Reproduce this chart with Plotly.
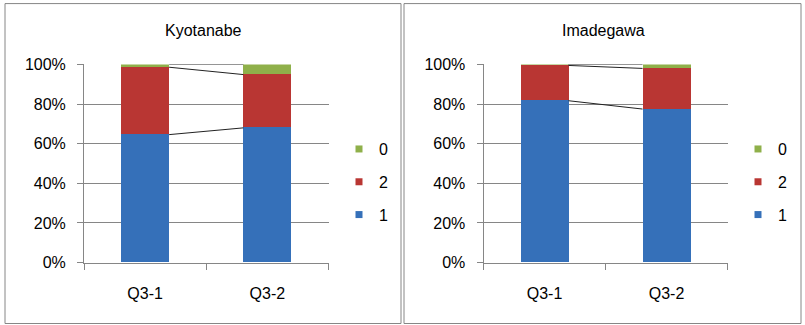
import plotly.graph_objects as go

categories = ["Q3-1", "Q3-2"]
panels = ["Kyotanabe", "Imadegawa"]
# percentages per panel: series "1", "2", "0"
kyotanabe_1 = [64.6, 68.0]
kyotanabe_2 = [34.0, 26.9]
kyotanabe_0 = [1.4, 5.1]
imadegawa_1 = [81.7, 77.5]
imadegawa_2 = [17.8, 20.5]
imadegawa_0 = [0.5, 2.0]
y_ticks = [0, 20, 40, 60, 80, 100]
y_ticklabels = ["0%", "20%", "40%", "60%", "80%", "100%"]

series_names = ["1", "2", "0"]
colors = {"1": "#3570b9", "2": "#b93633", "0": "#8fb04a"}
W, H = 805, 345
FONT = "Liberation Sans"
GRID = "#868686"
BARW = 0.393

# vertical mapping from target picture pixels to page pixels
O, S = 7.4, 0.948


def py(Y):
    return (Y - O) / S


def pp(Y):
    return 1 - py(Y) / H


data = {
    "Kyotanabe": {"1": kyotanabe_1, "2": kyotanabe_2, "0": kyotanabe_0},
    "Imadegawa": {"1": imadegawa_1, "2": imadegawa_2, "0": imadegawa_0},
}

fig = go.Figure()
xpos = list(range(len(categories)))
for pi, panel in enumerate(panels):
    xa = "x" if pi == 0 else "x2"
    ya = "y" if pi == 0 else "y2"
    leg = "legend" if pi == 0 else "legend2"
    cum = [0.0] * len(categories)
    for s in series_names:
        vals = data[panel][s]
        fig.add_trace(go.Bar(x=xpos, y=vals, base=cum[:], width=BARW,
                             marker=dict(color=colors[s], line=dict(width=0)),
                             xaxis=xa, yaxis=ya, showlegend=False, name=s))
        cum = [c + v for c, v in zip(cum, vals)]
        fig.add_trace(go.Scatter(x=[xpos[0] + BARW / 2, xpos[1] - BARW / 2], y=cum,
                                 mode="lines", line=dict(color="#222222", width=1),
                                 xaxis=xa, yaxis=ya, showlegend=False, hoverinfo="skip"))
    for s in ["0", "2", "1"]:
        fig.add_trace(go.Scatter(x=[None], y=[None], mode="markers", name=s,
                                 marker=dict(symbol="square", size=7, color=colors[s]),
                                 xaxis=xa, yaxis=ya, legend=leg, legendgroup=panel + s))

ydom = [pp(261.3), pp(63.7)]
xdoms = [[84 / W, 328.5 / W], [483.5 / W, 727.5 / W]]

axis_common_x = dict(range=[-0.5, 1.5], tickmode="array", tickvals=xpos, ticktext=categories,
                     ticks="", showgrid=False, zeroline=False, showline=True, linecolor=GRID,
                     linewidth=1, tickfont=dict(family=FONT, size=16, color="black"),
                     minor=dict(tickmode="array", tickvals=[-0.5, 0.5, 1.5], ticks="outside",
                                ticklen=6, tickcolor=GRID, showgrid=False),
                     ticklabelstandoff=16, fixedrange=True)
axis_common_y = dict(range=[0, 100], tickmode="array", tickvals=y_ticks, ticktext=y_ticklabels,
                     ticks="outside", ticklen=6, tickcolor=GRID, showgrid=True, gridcolor=GRID,
                     gridwidth=1, zeroline=False, showline=True, linecolor=GRID, linewidth=1,
                     tickfont=dict(family=FONT, size=16, color="black"), ticklabelstandoff=8,
                     domain=ydom, fixedrange=True)

fig.update_layout(
    width=W, height=H, autosize=False,
    margin=dict(l=0, r=0, t=0, b=0),
    paper_bgcolor="white", plot_bgcolor="white",
    barmode="overlay", bargap=0,
    xaxis=dict(domain=xdoms[0], anchor="y", **axis_common_x),
    yaxis=dict(anchor="x", **axis_common_y),
    xaxis2=dict(domain=xdoms[1], anchor="y2", **axis_common_x),
    yaxis2=dict(anchor="x2", **axis_common_y),
    legend=dict(x=339 / W, y=pp(130.5 * S + O), xanchor="left", yanchor="top",
                font=dict(family=FONT, size=16, color="black"),
                tracegroupgap=9, bgcolor="rgba(0,0,0,0)"),
    legend2=dict(x=738 / W, y=pp(130.5 * S + O), xanchor="left", yanchor="top",
                 font=dict(family=FONT, size=16, color="black"),
                 tracegroupgap=9, bgcolor="rgba(0,0,0,0)"),
    showlegend=True,
)

for x0, x1 in [(5, 401), (404, 801)]:
    fig.add_shape(type="rect", xref="paper", yref="paper",
                  x0=x0 / W, x1=x1 / W, y0=pp(322), y1=pp(3),
                  line=dict(color=GRID, width=1), fillcolor="rgba(0,0,0,0)", layer="below")

for panel, cx in zip(panels, [203, 603]):
    fig.add_annotation(text=panel, xref="paper", yref="paper", x=cx / W, y=pp(30),
                       xanchor="center", yanchor="middle", showarrow=False,
                       font=dict(family=FONT, size=16, color="black"))

post = (
    "document.documentElement.style.margin='0';"
    "document.body.style.margin='0';"
    "var gd=document.querySelector('.plotly-graph-div');"
    "gd.style.position='fixed';gd.style.left='0px';gd.style.top='0px';"
)
fig.write_html("out.html", config={"displayModeBar": False}, post_script=post)
